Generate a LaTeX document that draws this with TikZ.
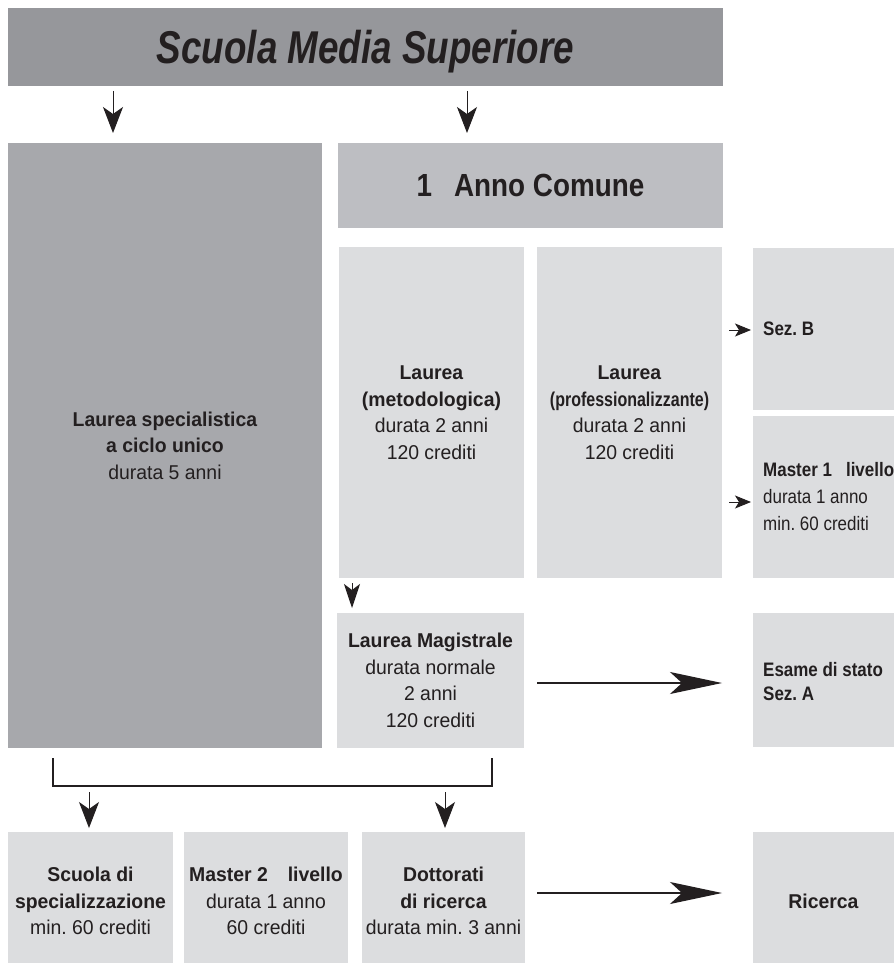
\documentclass[tikz,border=0pt]{standalone}
\usepackage{fontspec}
\setmainfont{Liberation Sans}
\newfontfamily\titlefnt[FakeStretch=0.80]{Liberation Sans}
\newfontfamily\annofnt[FakeStretch=0.87]{Liberation Sans}
\newfontfamily\bodyfnt[FakeStretch=0.97]{Liberation Sans}
\newfontfamily\sidefnt[FakeStretch=0.87]{Liberation Sans}
\newfontfamily\proffnt[FakeStretch=0.80]{Liberation Sans}
\usetikzlibrary{arrows.meta}
\definecolor{titlegray}{RGB}{150,151,155}
\definecolor{biggray}{RGB}{167,168,172}
\definecolor{annogray}{RGB}{189,190,194}
\definecolor{lightbox}{RGB}{220,221,223}
\definecolor{ink}{RGB}{35,31,32}
\frenchspacing
\begin{document}
\begin{tikzpicture}[x=1pt,y=-1pt,
  box/.style={rectangle, inner sep=0pt, draw=none, align=center, text=ink},
  light/.style={box, fill=lightbox},
  body/.style={font=\frenchspacing\bodyfnt\fontsize{20}{26.5}\selectfont},
  side/.style={font=\frenchspacing\sidefnt\fontsize{19.5}{27}\selectfont, text=ink, align=left, inner sep=0pt, anchor=west},
  sidetight/.style={side, font=\frenchspacing\sidefnt\fontsize{19.5}{24}\selectfont},
  arrV/.style={draw=ink, line width=1pt, -{Stealth[length=26pt,width=20pt,inset=7pt]}},
  arrShort/.style={draw=ink, line width=1pt, -{Stealth[length=24pt,width=16pt,inset=6pt]}},
  arrBig/.style={draw=ink, line width=1.2pt, -{Stealth[length=52pt,width=22pt,inset=12pt]}},
  arrSmall/.style={draw=ink, line width=1pt, -{Stealth[length=16pt,width=13pt,inset=4pt]}},
  bracket/.style={draw=ink, line width=1.5pt},
]
\clip (0,0) rectangle (894,963);
\fill[white] (0,0) rectangle (894,963);

% title
\node[box, fill=titlegray, minimum width=715pt, minimum height=78pt, text depth=0pt,
      font=\titlefnt\bfseries\itshape\fontsize{46}{50}\selectfont] (title) at (365.5,47) {Scuola Media Superiore};

% second row
\node[box, fill=biggray, minimum width=314pt, minimum height=605pt, body] (lbig) at (165,445.5)
  {\textbf{Laurea specialistica}\\\textbf{a ciclo unico}\\durata 5 anni};
\node[box, fill=annogray, minimum width=385pt, minimum height=85pt,
      font=\annofnt\fontsize{32}{36}\selectfont] (anno) at (530.5,185.5) {\textbf{1\hspace{22pt}Anno Comune}};

% laurea boxes
\node[light, minimum width=185pt, minimum height=331pt, body] (met) at (431.5,412.5)
  {\textbf{Laurea}\\\textbf{(metodologica)}\\durata 2 anni\\120 crediti};
\node[light, minimum width=185pt, minimum height=331pt, body] (prof) at (629.5,412.5)
  {\textbf{Laurea}\\{\proffnt\bfseries (professionalizzante)}\\durata 2 anni\\120 crediti};

% right column
\node[light, minimum width=141pt, minimum height=162pt] (sezb) at (823.5,329) {};
\node[side] (sezbt) at (763,329) {\textbf{Sez. B}};
\node[light, minimum width=141pt, minimum height=162pt] (mast1) at (823.5,497) {};
\node[side] (mast1t) at (763,497) {\textbf{Master 1\hspace{14pt}livello}\\durata 1 anno\\min. 60 crediti};

% magistrale
\node[light, minimum width=187pt, minimum height=135pt, body] (mag) at (430.5,680.5)
  {\textbf{Laurea Magistrale}\\durata normale\\2 anni\\120 crediti};
\node[light, minimum width=141pt, minimum height=134pt] (esame) at (823.5,680) {};
\node[sidetight] (esamet) at (763,682) {\textbf{Esame di stato}\\\textbf{Sez. A}};

% bottom row
\node[light, minimum width=165pt, minimum height=138pt, body] (scuola) at (90.5,901)
  {\textbf{Scuola di}\\\textbf{specializzazione}\\min. 60 crediti};
\node[light, minimum width=164pt, minimum height=138pt, body] (mast2) at (266,901)
  {\textbf{Master 2\hspace{20pt}livello}\\durata 1 anno\\60 crediti};
\node[light, minimum width=163pt, minimum height=138pt, body] (dott) at (443.5,901)
  {\textbf{Dottorati}\\\textbf{di ricerca}\\durata min. 3 anni};
\node[light, minimum width=141pt, minimum height=138pt, body] (ricerca) at (823.5,901)
  {\textbf{Ricerca}};

% connector end points
\coordinate (t1a) at (113,91);   \coordinate (t1b) at (113,133);
\coordinate (t2a) at (467,91);   \coordinate (t2b) at (467,133);
\coordinate (m1a) at (352,583);  \coordinate (m1b) at (352,608);
\coordinate (s1a) at (729,330);  \coordinate (s1b) at (751,330);
\coordinate (s2a) at (729,502);  \coordinate (s2b) at (751,502);
\coordinate (h1a) at (537,683);  \coordinate (h1b) at (722,683);
\coordinate (h2a) at (537,893);  \coordinate (h2b) at (722,893);
\coordinate (br1) at (53,758);   \coordinate (br2) at (53,786);
\coordinate (br3) at (492,786);  \coordinate (br4) at (492,758);
\coordinate (b1a) at (89,792);   \coordinate (b1b) at (89,828);
\coordinate (b2a) at (445,792);  \coordinate (b2b) at (445,828);

% connectors
\draw[arrV] (t1a) -- (t1b);
\draw[arrV] (t2a) -- (t2b);
\draw[arrShort] (m1a) -- (m1b);
\draw[arrSmall] (s1a) -- (s1b);
\draw[arrSmall] (s2a) -- (s2b);
\draw[arrBig] (h1a) -- (h1b);
\draw[arrBig] (h2a) -- (h2b);
\draw[bracket] (br1) -- (br2) -- (br3) -- (br4);
\draw[arrV] (b1a) -- (b1b);
\draw[arrV] (b2a) -- (b2b);
\end{tikzpicture}
\end{document}
